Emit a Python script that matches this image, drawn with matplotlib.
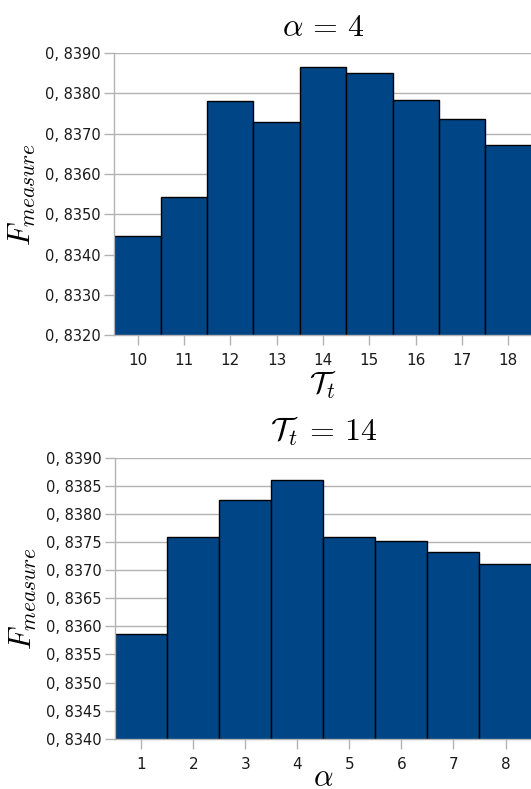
import matplotlib
matplotlib.use("Agg")
import matplotlib.pyplot as plt

plt.rcParams['mathtext.fontset'] = 'cm'
plt.rcParams['font.family'] = ['DejaVu Sans']

# Top chart: alpha = 4, varying T_t
tt_values = [10, 11, 12, 13, 14, 15, 16, 17, 18]
f_top = [0.83447, 0.83542, 0.83781, 0.83728, 0.83864, 0.83851, 0.83784, 0.83736, 0.83671]
top_yticks = [0.8320, 0.8330, 0.8340, 0.8350, 0.8360, 0.8370, 0.8380, 0.8390]
top_ytick_labels = ["0, 8320", "0, 8330", "0, 8340", "0, 8350", "0, 8360", "0, 8370", "0, 8380", "0, 8390"]

# Bottom chart: T_t = 14, varying alpha
alpha_values = [1, 2, 3, 4, 5, 6, 7, 8]
f_bottom = [0.83586, 0.83758, 0.83824, 0.83860, 0.83758, 0.83752, 0.83733, 0.83710]
bot_yticks = [0.8340, 0.8345, 0.8350, 0.8355, 0.8360, 0.8365, 0.8370, 0.8375, 0.8380, 0.8385, 0.8390]
bot_ytick_labels = ["0, 8340", "0, 8345", "0, 8350", "0, 8355", "0, 8360", "0, 8365",
                    "0, 8370", "0, 8375", "0, 8380", "0, 8385", "0, 8390"]

BAR = '#004586'
GRID = '#b3b3b3'

fig = plt.figure(figsize=(5.31, 7.89), dpi=100)
ax1 = fig.add_axes([0.2156, 0.5749, 0.7854, 0.3582])
ax2 = fig.add_axes([0.2169, 0.0636, 0.7841, 0.3564])


def style(ax, cats, vals, yticks, ylabels, title, xlabel, xpad):
    x = list(range(len(cats)))
    ax.set_axisbelow(True)
    ax.yaxis.grid(True, color=GRID, linewidth=1.0)
    ax.bar(x, vals, width=1.0, color=BAR, edgecolor='black', linewidth=1.0)
    ax.set_xlim(-0.5, len(cats) - 0.5)
    ax.set_ylim(yticks[0], yticks[-1])
    ax.set_yticks(yticks)
    ax.set_yticklabels(ylabels, fontsize=10.5, color='#1a1a1a')
    ax.set_xticks(x)
    ax.set_xticklabels([str(c) for c in cats], fontsize=11, color='#1a1a1a')
    ax.tick_params(axis='both', length=7, width=1, color=GRID)
    ax.tick_params(axis='x', pad=6)
    ax.tick_params(axis='y', pad=3)
    for s in ['top', 'right']:
        ax.spines[s].set_visible(False)
    for s in ['left', 'bottom']:
        ax.spines[s].set_color(GRID)
        ax.spines[s].set_linewidth(1.0)
    ax.set_title(title, fontsize=23, pad=12)
    ax.set_xlabel(xlabel, fontsize=22, labelpad=xpad)
    ax.set_ylabel(r'$F_{measure}$', fontsize=22, labelpad=5)


style(ax1, tt_values, f_top, top_yticks, top_ytick_labels, r'$\alpha\,=\,4$', r'$\mathcal{T}_t$', 1)
style(ax2, alpha_values, f_bottom, bot_yticks, bot_ytick_labels, r'$\mathcal{T}_t\,=\,14$', r'$\alpha$', -6)

fig.savefig('out.png', dpi=100)
